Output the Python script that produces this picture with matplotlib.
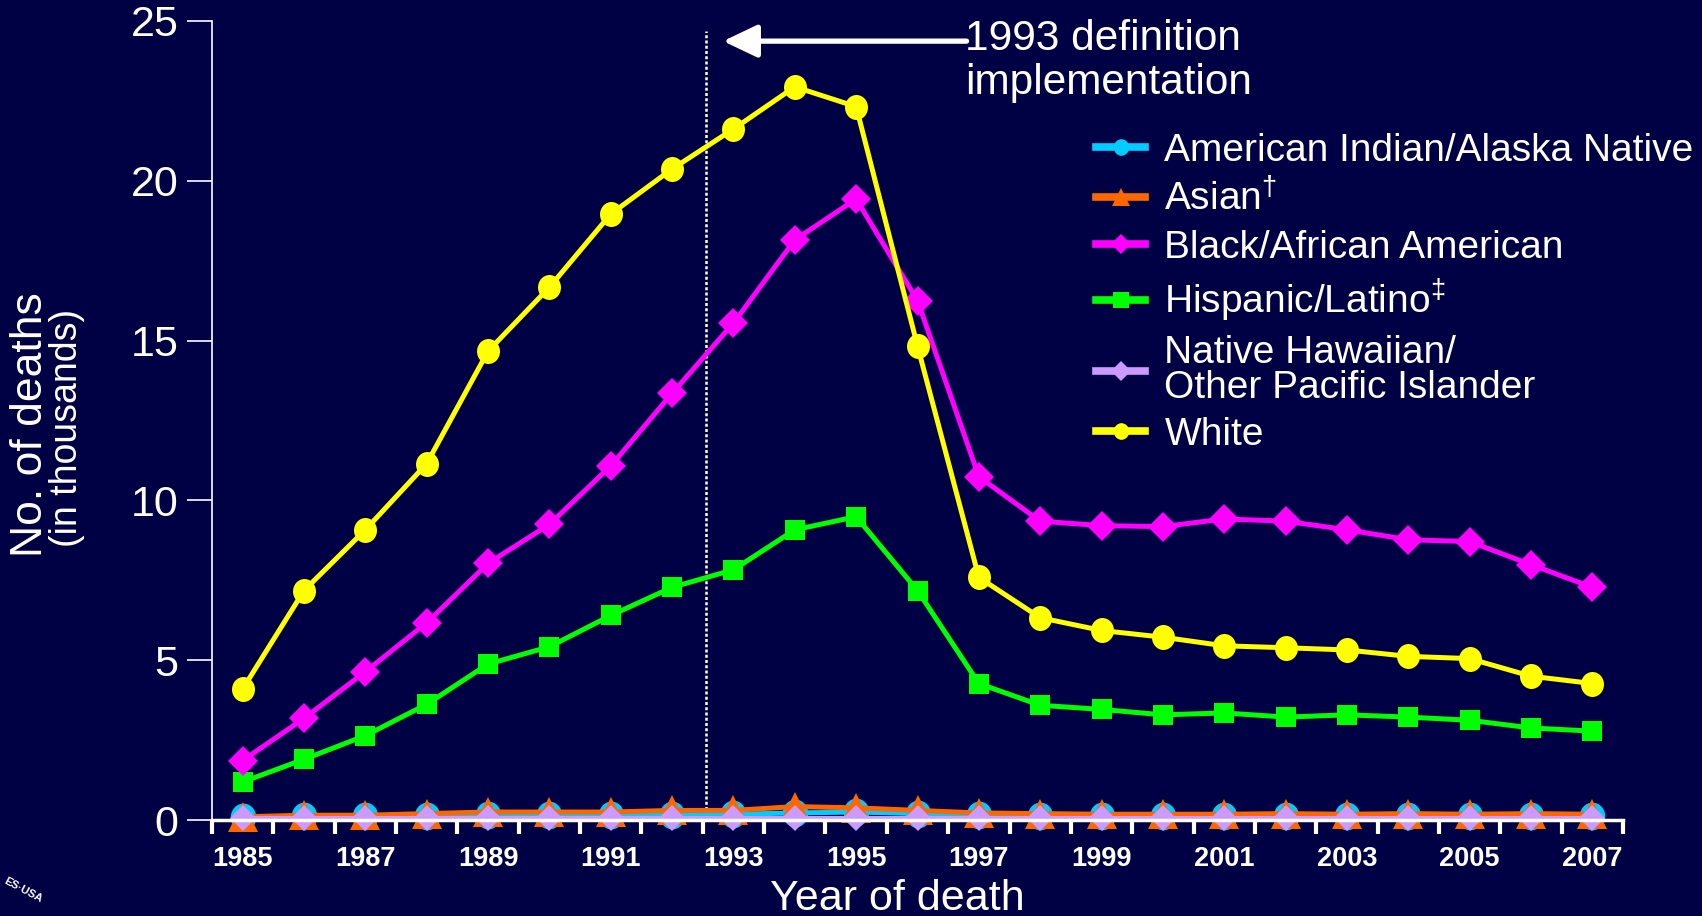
"""HIV/AIDS deaths by race/ethnicity, 1985-2007 (recreated chart)."""

import matplotlib
matplotlib.use('Agg')
import matplotlib.pyplot as plt
from matplotlib.lines import Line2D
from matplotlib.path import Path
from matplotlib.transforms import Affine2D

# Data (thousands of deaths)
years = list(range(1985, 2008))

white = [4.1, 7.18, 9.08, 11.15, 14.67, 16.67, 18.96, 20.37, 21.62, 22.94, 22.32,
         14.83, 7.59, 6.33, 5.93, 5.72, 5.45, 5.39, 5.32, 5.12, 5.05, 4.5, 4.27]
black = [1.86, 3.18, 4.64, 6.17, 8.03, 9.25, 11.08, 13.35, 15.55, 18.15, 19.43,
         16.25, 10.74, 9.35, 9.21, 9.18, 9.42, 9.35, 9.08, 8.77, 8.71, 7.99, 7.28]
hispanic = [1.19, 1.9, 2.64, 3.62, 4.88, 5.42, 6.4, 7.28, 7.83, 9.08, 9.49,
            7.18, 4.27, 3.59, 3.46, 3.29, 3.35, 3.22, 3.29, 3.22, 3.12, 2.88, 2.78]
asian = [0.1, 0.15, 0.15, 0.2, 0.25, 0.25, 0.25, 0.3, 0.3, 0.42, 0.38,
         0.3, 0.22, 0.2, 0.18, 0.18, 0.18, 0.2, 0.18, 0.2, 0.18, 0.2, 0.18]
aian = [0.08, 0.12, 0.12, 0.12, 0.15, 0.15, 0.15, 0.15, 0.18, 0.22, 0.25,
        0.2, 0.15, 0.12, 0.12, 0.12, 0.12, 0.12, 0.12, 0.12, 0.12, 0.12, 0.12]
nhopi = [0.05] * 23

labels = ['American Indian/Alaska Native', r'Asian$^{\dagger}$',
          'Black/African American', r'Hispanic/Latino$^{\ddagger}$',
          'Native Hawaiian/\nOther Pacific Islander', 'White']

BG = '#000044'
FONT = 'Liberation Sans'

plt.rcParams['font.family'] = [FONT, 'DejaVu Sans']
plt.rcParams['mathtext.fontset'] = 'custom'
plt.rcParams['mathtext.rm'] = FONT
plt.rcParams['text.color'] = 'white'

# slightly tall ellipse marker, like the stretched circles in the original
ellipse = Path.unit_circle().transformed(Affine2D().scale(0.92, 1.0))

fig = plt.figure(figsize=(17.02, 9.16), dpi=100, facecolor=BG)
ax = fig.add_axes([212 / 1702, 1 - 820 / 916, (1623 - 212) / 1702, (820 - 21) / 916])
ax.set_facecolor(BG)

lw = 3.6
# small series sit on the axis, so their markers must not be clipped
ax.plot(years, aian, color='#00CCFF', lw=lw, marker=ellipse, ms=20, mew=0,
        zorder=3, clip_on=False)
ax.plot(years, asian, color='#FF6600', lw=lw, marker='^', ms=21, mew=0,
        zorder=4, clip_on=False)
ax.plot(years, nhopi, color='#CC99FF', lw=lw, marker='D', ms=13, mew=0,
        zorder=5, clip_on=False)
ax.plot(years, hispanic, color='#00FF00', lw=lw, marker='s', ms=15, mew=0, zorder=6)
ax.plot(years, black, color='#FF00FF', lw=lw, marker='D', ms=15, mew=0, zorder=7)
ax.plot(years, white, color='#FFFF00', lw=lw, marker=ellipse, ms=18, mew=0, zorder=8)

# axes styling
ax.set_xlim(1984.5, 2007.5)
ax.set_ylim(0, 25)
for side in ['top', 'right']:
    ax.spines[side].set_visible(False)
ax.spines['left'].set_color('white')
ax.spines['left'].set_linewidth(1.2)
ax.spines['bottom'].set_color('white')
ax.spines['bottom'].set_linewidth(2.5)
ax.spines['bottom'].set_zorder(10)

ax.set_yticks([0, 5, 10, 15, 20, 25])
ax.tick_params(axis='y', colors='white', length=18, width=1.2, pad=6, labelsize=31)

ax.set_xticks([y - 0.5 for y in years] + [2007.5])
ax.set_xticklabels([])
ax.set_xticks(years[::2], minor=True)
ax.set_xticklabels([str(y) for y in years[::2]], minor=True)
ax.tick_params(axis='x', which='major', colors='white', length=10, width=3)
ax.tick_params(axis='x', which='minor', colors='white', length=0, pad=19, labelsize=19.5)
for t in ax.get_xticklabels(minor=True):
    t.set_fontweight('bold')

# axis labels
fig.text(31 / 1702, 1 - 425 / 916, 'No. of deaths', rotation=90, fontsize=32,
         ha='center', va='center')
fig.text(67 / 1702, 1 - 428 / 916, '(in thousands)', rotation=90, fontsize=27,
         ha='center', va='center')
fig.text(897 / 1702, 6 / 916, 'Year of death', fontsize=31, ha='center', va='baseline')

# 1993 definition marker
ax.plot([1992.55, 1992.55], [0, 24.7], color='white', lw=1.8,
        linestyle=(0, (1.2, 0.9)), zorder=2)
ax.annotate('', xy=(1992.83, 24.37), xytext=(1996.8, 24.37),
            arrowprops=dict(arrowstyle='-|>,head_length=2.1,head_width=1.0',
                            mutation_scale=10, color='white', lw=3.8,
                            shrinkA=0, shrinkB=0))
ax.text(1996.77, 24.08, '1993 definition', fontsize=30.5, va='baseline', ha='left')
ax.text(1996.77, 22.72, 'implementation', fontsize=30.5, va='baseline', ha='left')

# legend
handles = [
    Line2D([], [], color='#00CCFF', lw=5.5, marker=ellipse, ms=12, mew=0),
    Line2D([], [], color='#FF6600', lw=5.5, marker='^', ms=13, mew=0),
    Line2D([], [], color='#FF00FF', lw=5.5, marker='D', ms=10, mew=0),
    Line2D([], [], color='#00FF00', lw=5.5, marker='s', ms=12, mew=0),
    Line2D([], [], color='#CC99FF', lw=5.5, marker='D', ms=10, mew=0),
    Line2D([], [], color='#FFFF00', lw=5.5, marker=ellipse, ms=12, mew=0),
]
leg = ax.legend(handles, labels, loc='upper left',
                bbox_to_anchor=(1096 / 1702, 1 - 133 / 916),
                bbox_transform=fig.transFigure, frameon=False, fontsize=28,
                borderpad=0, borderaxespad=0, handlelength=1.26,
                handletextpad=0.5, labelspacing=0.28, labelcolor='white')
for t in leg.get_texts():
    t.set_linespacing(0.98)

# partial seal in the corner
fig.text(2 / 1702, 14 / 916, 'ES\u00b7USA', rotation=-28, fontsize=8,
         color='white', fontweight='bold')

fig.savefig('out.png', dpi=100, facecolor=BG)
